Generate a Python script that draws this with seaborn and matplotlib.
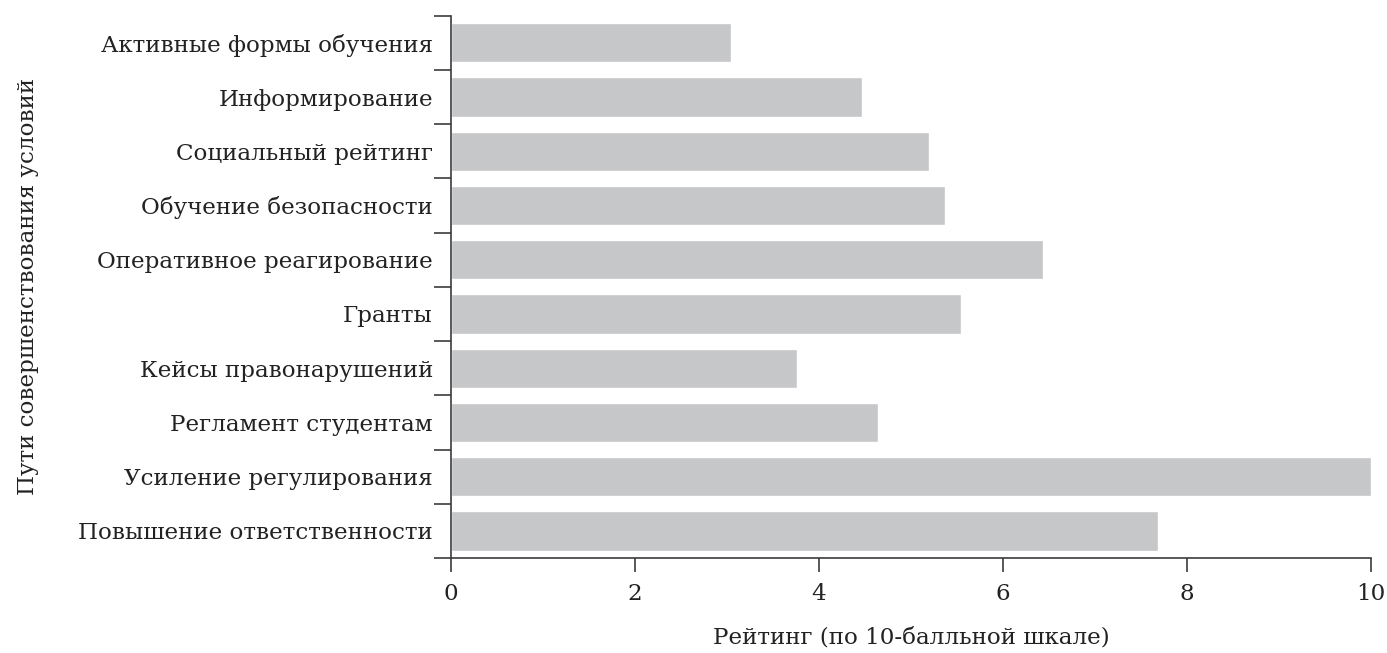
import pandas as pd
import matplotlib
matplotlib.use('Agg')
import matplotlib.pyplot as plt
import seaborn as sns
from matplotlib.ticker import FixedLocator

# ways of improving conditions, top to bottom
categories = ['Активные формы обучения', 'Информирование', 'Социальный рейтинг',
              'Обучение безопасности', 'Оперативное реагирование', 'Гранты',
              'Кейсы правонарушений', 'Регламент студентам', 'Усиление регулирования',
              'Повышение ответственности']
ratings = [3.04, 4.47, 5.19, 5.37, 6.43, 5.54, 3.76, 4.64, 10.0, 7.68]
x_ticks = [0, 2, 4, 6, 8, 10]

df = pd.DataFrame({'Путь': categories, 'Рейтинг': ratings})

sns.set_style('ticks')
plt.rcParams['font.family'] = ['DejaVu Serif']
fs = 16.6

fig = plt.figure(figsize=(13.87, 6.53), dpi=100)
ax = fig.add_axes([0.3252, 0.1455, 0.6633, 0.8305])

sns.barplot(data=df, x='Рейтинг', y='Путь', orient='h', color='#c6c7c9',
            saturation=1, width=0.725, ax=ax)

line_col = '#3c3c3c'
ax.set_xlim(0, 10)
ax.set_ylim(len(categories) - 0.5, -0.5)
ax.set_xticks(x_ticks)
ax.set_xticklabels([str(t) for t in x_ticks])
# tick marks sit between the bars
ax.yaxis.set_minor_locator(FixedLocator([i - 0.5 for i in range(len(categories) + 1)]))

sns.despine(ax=ax)
for s in ['left', 'bottom']:
    ax.spines[s].set_color(line_col)
    ax.spines[s].set_linewidth(1.2)

ax.tick_params(axis='y', which='major', left=True, length=0, pad=13, labelsize=fs, colors='#222222')
ax.tick_params(axis='y', which='minor', left=True, length=12.5, width=1.2, color=line_col, direction='out')
ax.tick_params(axis='x', which='major', bottom=True, length=10, width=1.2, color=line_col,
               direction='out', pad=8, labelsize=fs, labelcolor='#222222')

ax.set_xlabel('Рейтинг (по 10-балльной шкале)', fontsize=fs, color='#222222')
ax.xaxis.set_label_coords(0.5, -0.1457)
ax.xaxis.label.set_va('center')
ax.set_ylabel('Пути совершенствования условий', fontsize=fs, color='#222222')
ax.yaxis.set_label_coords(-0.46, 0.5)
ax.yaxis.label.set_va('center')

plt.savefig('out.png', dpi=100)
